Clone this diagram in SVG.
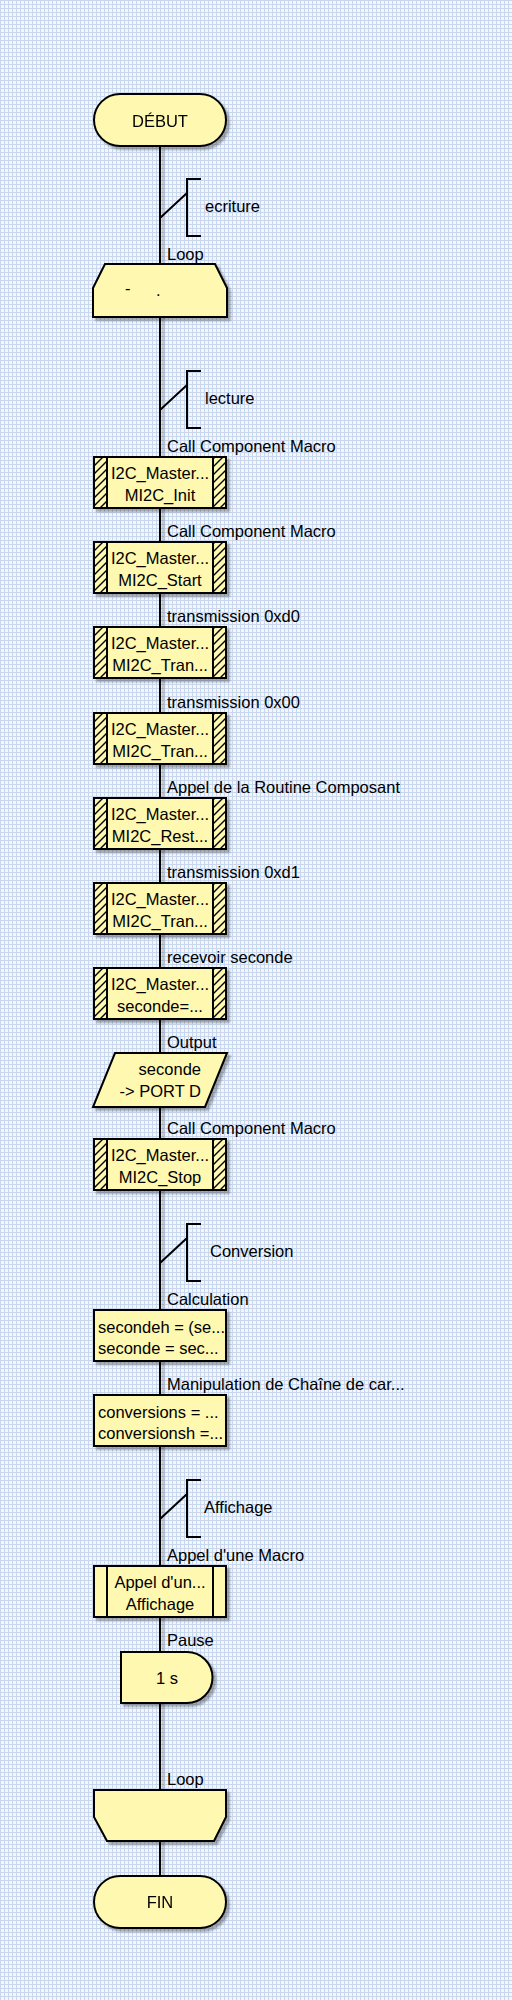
<svg xmlns="http://www.w3.org/2000/svg" width="512" height="2000" viewBox="0 0 512 2000">
<defs>
<pattern id="grid" width="4" height="4" patternUnits="userSpaceOnUse">
<rect width="4" height="4" fill="#f3f6fb"/>
<path d="M0,0.5 H4 M0.5,0 V4" stroke="#c8d7ee" stroke-width="1"/>
</pattern>
<pattern id="hatch" width="8" height="8" patternUnits="userSpaceOnUse">
<rect width="8" height="8" fill="#fff8b0"/>
<path d="M-2,10 L10,-2 M-2,2 L2,-2 M6,10 L10,6" stroke="#000" stroke-width="1.4"/>
</pattern>
<filter id="sh" filterUnits="userSpaceOnUse" x="0" y="0" width="512" height="2000">
<feDropShadow dx="3" dy="3" stdDeviation="1.3" flood-color="#000" flood-opacity="0.32"/>
</filter>
</defs>
<style>
text{font-family:"Liberation Sans",Arial,sans-serif;font-size:16.5px;fill:#000}
.c{text-anchor:middle}
.e{text-anchor:end}
.box{fill:#fff8b0;stroke:#000;stroke-width:2}
.ln{fill:none;stroke:#000;stroke-width:2}
.node{filter:url(#sh)}
</style>
<rect width="512" height="2000" fill="url(#grid)"/>

<g id="connectors" filter="url(#sh)">
<path class="ln" d="M160,146 V1876"/>
</g>

<g id="n_debut" class="node">
<rect class="box" x="94" y="94" width="132" height="52" rx="26" ry="26"/>
<text class="c" x="160" y="127">DÉBUT</text>
</g>

<g id="n_c_ecriture">
<path class="ln" d="M160,218 L187,193 M201,179 H187 V236 H201"/>
<text x="205" y="212">ecriture</text>
</g>

<g id="n_loop_start">
<text x="167" y="260">Loop</text>
<g class="node"><polygon class="box" points="105,264 215,264 227,288 227,317 93,317 93,288"/></g>
<text x="125" y="294">-</text>
<text x="156" y="296">.</text>
</g>

<g id="n_c_lecture">
<path class="ln" d="M160,410 L187,385 M201,371 H187 V428 H201"/>
<text x="205" y="404">lecture</text>
</g>

<g id="n_b1" transform="translate(0,456)">
<text x="167" y="-4">Call Component Macro</text>
<g class="node"><rect class="box" x="94" y="1" width="132" height="51"/></g>
<rect x="95" y="2" width="12" height="49" fill="url(#hatch)"/>
<rect x="213" y="2" width="12" height="49" fill="url(#hatch)"/>
<path class="ln" d="M107,1 V52 M213,1 V52"/>
<text class="c" x="160" y="23">I2C_Master...</text>
<text class="c" x="160" y="44.5">MI2C_Init</text>
</g>

<g id="n_b2" transform="translate(0,541)">
<text x="167" y="-4">Call Component Macro</text>
<g class="node"><rect class="box" x="94" y="1" width="132" height="51"/></g>
<rect x="95" y="2" width="12" height="49" fill="url(#hatch)"/>
<rect x="213" y="2" width="12" height="49" fill="url(#hatch)"/>
<path class="ln" d="M107,1 V52 M213,1 V52"/>
<text class="c" x="160" y="23">I2C_Master...</text>
<text class="c" x="160" y="44.5">MI2C_Start</text>
</g>

<g id="n_b3" transform="translate(0,626)">
<text x="167" y="-4">transmission 0xd0</text>
<g class="node"><rect class="box" x="94" y="1" width="132" height="51"/></g>
<rect x="95" y="2" width="12" height="49" fill="url(#hatch)"/>
<rect x="213" y="2" width="12" height="49" fill="url(#hatch)"/>
<path class="ln" d="M107,1 V52 M213,1 V52"/>
<text class="c" x="160" y="23">I2C_Master...</text>
<text class="c" x="160" y="44.5">MI2C_Tran...</text>
</g>

<g id="n_b4" transform="translate(0,712)">
<text x="167" y="-4">transmission 0x00</text>
<g class="node"><rect class="box" x="94" y="1" width="132" height="51"/></g>
<rect x="95" y="2" width="12" height="49" fill="url(#hatch)"/>
<rect x="213" y="2" width="12" height="49" fill="url(#hatch)"/>
<path class="ln" d="M107,1 V52 M213,1 V52"/>
<text class="c" x="160" y="23">I2C_Master...</text>
<text class="c" x="160" y="44.5">MI2C_Tran...</text>
</g>

<g id="n_b5" transform="translate(0,797)">
<text x="167" y="-4">Appel de la Routine Composant</text>
<g class="node"><rect class="box" x="94" y="1" width="132" height="51"/></g>
<rect x="95" y="2" width="12" height="49" fill="url(#hatch)"/>
<rect x="213" y="2" width="12" height="49" fill="url(#hatch)"/>
<path class="ln" d="M107,1 V52 M213,1 V52"/>
<text class="c" x="160" y="23">I2C_Master...</text>
<text class="c" x="160" y="44.5">MI2C_Rest...</text>
</g>

<g id="n_b6" transform="translate(0,882)">
<text x="167" y="-4">transmission 0xd1</text>
<g class="node"><rect class="box" x="94" y="1" width="132" height="51"/></g>
<rect x="95" y="2" width="12" height="49" fill="url(#hatch)"/>
<rect x="213" y="2" width="12" height="49" fill="url(#hatch)"/>
<path class="ln" d="M107,1 V52 M213,1 V52"/>
<text class="c" x="160" y="23">I2C_Master...</text>
<text class="c" x="160" y="44.5">MI2C_Tran...</text>
</g>

<g id="n_b7" transform="translate(0,967)">
<text x="167" y="-4">recevoir seconde</text>
<g class="node"><rect class="box" x="94" y="1" width="132" height="51"/></g>
<rect x="95" y="2" width="12" height="49" fill="url(#hatch)"/>
<rect x="213" y="2" width="12" height="49" fill="url(#hatch)"/>
<path class="ln" d="M107,1 V52 M213,1 V52"/>
<text class="c" x="160" y="23">I2C_Master...</text>
<text class="c" x="160" y="44.5">seconde=...</text>
</g>

<g id="n_output">
<text x="167" y="1048">Output</text>
<g class="node"><polygon class="box" points="115,1053 227,1053 205,1107 93,1107"/></g>
<text class="e" x="201" y="1075">seconde</text>
<text class="e" x="201" y="1097">-&gt; PORT D</text>
</g>

<g id="n_b8" transform="translate(0,1138)">
<text x="167" y="-4">Call Component Macro</text>
<g class="node"><rect class="box" x="94" y="1" width="132" height="51"/></g>
<rect x="95" y="2" width="12" height="49" fill="url(#hatch)"/>
<rect x="213" y="2" width="12" height="49" fill="url(#hatch)"/>
<path class="ln" d="M107,1 V52 M213,1 V52"/>
<text class="c" x="160" y="23">I2C_Master...</text>
<text class="c" x="160" y="44.5">MI2C_Stop</text>
</g>

<g id="n_c_conversion">
<path class="ln" d="M160,1263 L187,1238 M201,1224 H187 V1281 H201"/>
<text x="210" y="1257">Conversion</text>
</g>

<g id="n_calc" transform="translate(0,1309)">
<text x="167" y="-4">Calculation</text>
<g class="node"><rect class="box" x="94" y="1" width="132" height="51"/></g>
<text x="98" y="23.5">secondeh = (se...</text>
<text x="98" y="44.5">seconde = sec...</text>
</g>

<g id="n_manip" transform="translate(0,1394)">
<text x="167" y="-4">Manipulation de Chaîne de car...</text>
<g class="node"><rect class="box" x="94" y="1" width="132" height="51"/></g>
<text x="98" y="23.5">conversions = ...</text>
<text x="98" y="44.5">conversionsh =...</text>
</g>

<g id="n_c_affichage">
<path class="ln" d="M160,1519 L187,1494 M201,1480 H187 V1537 H201"/>
<text x="204" y="1513">Affichage</text>
</g>

<g id="n_macro" transform="translate(0,1565)">
<text x="167" y="-4">Appel d'une Macro</text>
<g class="node"><rect class="box" x="94" y="1" width="132" height="51"/></g>
<path class="ln" d="M107,1 V52 M213,1 V52"/>
<text class="c" x="160" y="23">Appel d'un...</text>
<text class="c" x="160" y="44.5">Affichage</text>
</g>

<g id="n_pause">
<text x="167" y="1646">Pause</text>
<g class="node"><path class="box" d="M121,1652 H187 A25.5,25.5 0 0 1 187,1703 H121 Z"/></g>
<text class="c" x="167" y="1684">1 s</text>
</g>

<g id="n_loop_end">
<text x="167" y="1785">Loop</text>
<g class="node"><polygon class="box" points="94,1790 226,1790 226,1817 214,1841 107,1841 94,1817"/></g>
</g>

<g id="n_fin" class="node">
<rect class="box" x="94" y="1876" width="132" height="52" rx="26" ry="26"/>
<text class="c" x="160" y="1908">FIN</text>
</g>
</svg>
